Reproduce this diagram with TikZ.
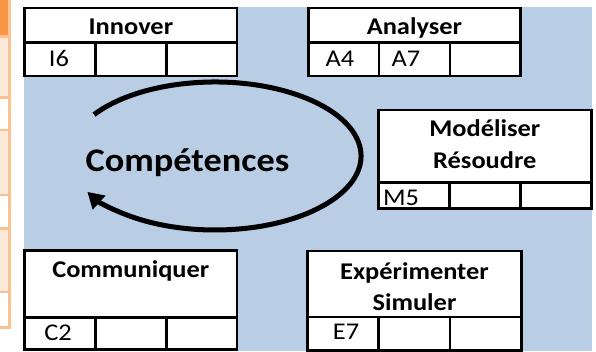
\documentclass[tikz,border=0pt]{standalone}
\usepackage{fontspec}
\setmainfont{Carlito}[FakeStretch=1.1]
\usetikzlibrary{arrows.meta}
\definecolor{bgblue}{HTML}{B9CDE5}
\definecolor{orDark}{HTML}{F79646}
\definecolor{orLine}{HTML}{FAC090}
\definecolor{orLight}{HTML}{FDE9D9}
\begin{document}
\begin{tikzpicture}[x=1pt,y=-1pt,
  boxline/.style={line width=2.6pt, line join=miter},
  title/.style={font=\fontsize{24}{29}\selectfont\bfseries, anchor=base, inner sep=0pt},
  cell/.style={font=\fontsize{24}{29}\selectfont, anchor=base, inner sep=0pt},
  orborder/.style={orLine, line width=2.6pt}]
\useasboundingbox (0,0) rectangle (596,351);
\fill[white] (0,0) rectangle (596,351);
% orange table strip
\fill[orDark] (0,0) rectangle (9.5,36.5);
\fill[orLight] (0,36.5) rectangle (9.5,97.5);
\fill[orLight] (0,130) rectangle (9.5,195);
\fill[orLight] (0,228.5) rectangle (9.5,292);
\draw[orborder] (9.5,0) -- (9.5,328.8);
\foreach \yy in {36.5,97.5,130,195,228.5,292,327.5}
  \draw[orborder] (0,\yy) -- (10.8,\yy);
% blue background
\fill[bgblue] (24,7.3) rectangle (592,351);
% Innover
\draw[boxline, fill=white] (24.7,8) rectangle (237,76);
\draw[boxline] (24.7,42.5) -- (237,42.5) (95.5,42.5) -- (95.5,76) (166.2,42.5) -- (166.2,76);
\node[title] (innover) at (130.9,34) {Innover};
\node[cell] (i6) at (59,66.5) {I6};
% Analyser
\draw[boxline, fill=white] (308.2,8) rectangle (520.5,76);
\draw[boxline] (308.2,42.5) -- (520.5,42.5) (379,42.5) -- (379,76) (449.8,42.5) -- (449.8,76);
\node[title] (analyser) at (414.4,34.3) {Analyser};
\node[cell] (a4) at (340,66) {A4};
\node[cell] (a7) at (406,66) {A7};
% Modeliser
\draw[boxline, fill=white] (378.3,110) rectangle (591.3,208.5);
\draw[boxline] (378.3,182.5) -- (591.3,182.5) (449.3,182.5) -- (449.3,208.5) (520.3,182.5) -- (520.3,208.5);
\node[title] (modeliser) at (484.8,136) {Modéliser};
\node[title] (resoudre) at (484.8,168) {Résoudre};
\node[cell] (m5) at (401,205.5) {M5};
% Communiquer
\draw[boxline, fill=white] (24.7,250.7) rectangle (236.8,349.5);
\draw[boxline] (24.7,317.3) -- (236.8,317.3) (95.5,317.3) -- (95.5,349.5) (166.2,317.3) -- (166.2,349.5);
\node[title] (communiquer) at (130.8,277.5) {Communiquer};
\node[cell] (c2) at (58,340) {C2};
% Experimenter
\draw[boxline, fill=white] (307.5,251) rectangle (521.5,350.3);
\draw[boxline] (307.5,317) -- (521.5,317) (378.5,317) -- (378.5,350.3) (450,317) -- (450,350.3);
\node[title] (experimenter) at (414.5,279) {Expérimenter};
\node[title] (simuler) at (414.5,310) {Simuler};
\node[cell] (e7) at (346,339.5) {E7};
% cycle arrow
\coordinate (arcstart) at (94,114.6);
\draw[line width=5pt, -{Triangle[length=16pt,width=18pt]}] (arcstart) arc[start angle=214, end angle=511, x radius=146, y radius=74];
\node[font=\fontsize{33}{40}\selectfont\bfseries, anchor=base, inner sep=0pt] (competences) at (187.5,171.5) {Compétences};
\end{tikzpicture}
\end{document}
